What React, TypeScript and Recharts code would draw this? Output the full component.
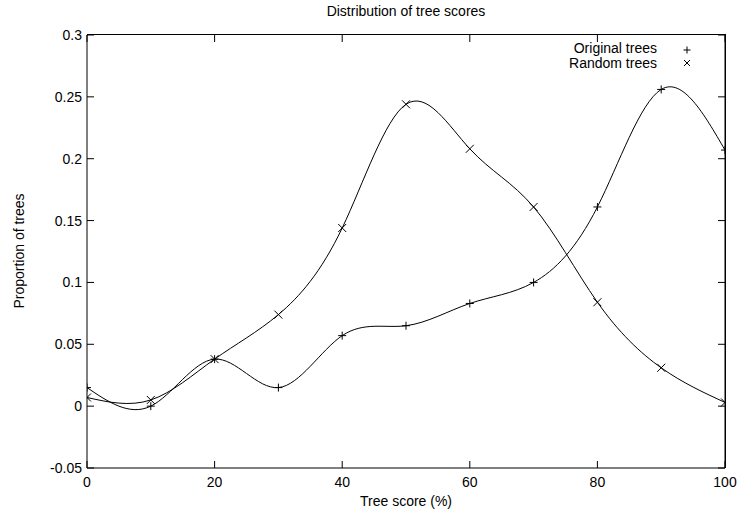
import { LineChart, Line, XAxis, YAxis } from "recharts";

const scores = [0, 10, 20, 30, 40, 50, 60, 70, 80, 90, 100];
const originalTrees = [0.015, 0.0, 0.038, 0.015, 0.057, 0.065, 0.083, 0.1, 0.161, 0.256, 0.207];
const randomTrees = [0.007, 0.005, 0.038, 0.074, 0.144, 0.244, 0.208, 0.161, 0.084, 0.031, 0.003];
const xTicks = [0, 20, 40, 60, 80, 100];
const yTicks = [-0.05, 0, 0.05, 0.1, 0.15, 0.2, 0.25, 0.3];
const xDomain = [0, 100];
const yDomain = [-0.05, 0.3];

const data = scores.map((s, i) => ({ score: s, original: originalTrees[i], random: randomTrees[i] }));

const font = "'Liberation Sans', Arial, sans-serif";

// plot box (gnuplot-style frame)
const PLOT_LEFT = 87;
const PLOT_TOP = 35;
const PLOT_RIGHT = 725;
const PLOT_BOTTOM = 468;
const TICK = 7;

const Plus = (props: any) => {
  const { cx, cy } = props;
  if (cx == null || cy == null) return null;
  return (
    <path d={`M${cx - 4},${cy}H${cx + 4}M${cx},${cy - 4}V${cy + 4}`} stroke="#000" strokeWidth={1} fill="none" />
  );
};

const Cross = (props: any) => {
  const { cx, cy } = props;
  if (cx == null || cy == null) return null;
  return (
    <path
      d={`M${cx - 4},${cy - 4}L${cx + 4},${cy + 4}M${cx - 4},${cy + 4}L${cx + 4},${cy - 4}`}
      stroke="#000"
      strokeWidth={1}
      fill="none"
    />
  );
};

// bottom tick label, plus the mirrored tick on the top border
const XTick = (props: any) => {
  const { x, y, payload } = props;
  return (
    <g>
      <line x1={x} x2={x} y1={PLOT_TOP} y2={PLOT_TOP + TICK} stroke="#000" strokeWidth={1} />
      <text x={x} y={y} dy="0.71em" textAnchor="middle" fontSize={14} fontFamily={font} fill="#000">
        {payload.value}
      </text>
    </g>
  );
};

const tickStyle = { fontSize: 14, fill: "#000", fontFamily: font };
const noLabel = { fontSize: 1, fill: "none" };
const black = { stroke: "#000" };

export default function App() {
  return (
    <div style={{ position: "fixed", left: 0, top: 0, width: 737, height: 512, background: "#fff", fontFamily: font }}>
      <LineChart
        width={737}
        height={512}
        data={data}
        margin={{ top: PLOT_TOP, right: 11, bottom: 14, left: 0 }}
        style={{ position: "absolute", left: 0, top: 0 }}
      >
        <XAxis
          dataKey="score"
          type="number"
          domain={xDomain}
          ticks={xTicks}
          height={30}
          tickSize={TICK}
          tickMargin={2}
          tick={<XTick />}
          axisLine={black}
          tickLine={{ stroke: "#000", transform: `translate(0,-${TICK})` }}
          allowDataOverflow
        />
        <YAxis
          type="number"
          domain={yDomain}
          ticks={yTicks}
          width={87}
          tickSize={TICK}
          tickMargin={-2}
          tick={tickStyle}
          axisLine={black}
          tickLine={{ stroke: "#000", transform: `translate(${TICK},0)` }}
          allowDataOverflow
        />
        <YAxis
          yAxisId="right"
          orientation="right"
          type="number"
          domain={yDomain}
          ticks={yTicks}
          width={1}
          tickSize={TICK}
          tick={noLabel}
          axisLine={black}
          tickLine={{ stroke: "#000", transform: `translate(-${TICK},0)` }}
        />
        <Line
          yAxisId="right"
          dataKey="random"
          stroke="none"
          dot={false}
          activeDot={false}
          legendType="none"
          isAnimationActive={false}
        />
        <Line
          type="natural"
          dataKey="original"
          stroke="#000"
          strokeWidth={1}
          dot={<Plus />}
          activeDot={false}
          isAnimationActive={false}
        />
        <Line
          type="natural"
          dataKey="random"
          stroke="#000"
          strokeWidth={1}
          dot={<Cross />}
          activeDot={false}
          isAnimationActive={false}
        />
      </LineChart>
      <div
        style={{
          position: "absolute",
          left: PLOT_LEFT,
          top: PLOT_TOP - 1,
          width: PLOT_RIGHT - PLOT_LEFT,
          height: PLOT_BOTTOM - PLOT_TOP,
          borderTop: "1px solid #000",
          borderRight: "1px solid #000",
          pointerEvents: "none",
        }}
      />
      <div style={{ position: "absolute", left: 206, width: 400, top: 3, textAlign: "center", fontSize: 14 }}>
        Distribution of tree scores
      </div>
      <div style={{ position: "absolute", left: 206, width: 400, top: 493, textAlign: "center", fontSize: 14 }}>
        Tree score (%)
      </div>
      <div
        style={{
          position: "absolute",
          left: 19,
          top: 251,
          fontSize: 14,
          whiteSpace: "nowrap",
          transform: "translate(-50%, -50%) rotate(-90deg)",
        }}
      >
        Proportion of trees
      </div>
      <div style={{ position: "absolute", right: 80, top: 41, fontSize: 14, lineHeight: "15px", textAlign: "right" }}>
        <div>Original trees</div>
        <div>Random trees</div>
      </div>
      <svg style={{ position: "absolute", left: 680, top: 42 }} width={16} height={28}>
        <path d="M3.5,8H10.5M7,4.5V11.5" stroke="#000" fill="none" />
        <path d="M4,18L10,24M4,24L10,18" stroke="#000" fill="none" />
      </svg>
    </div>
  );
}
